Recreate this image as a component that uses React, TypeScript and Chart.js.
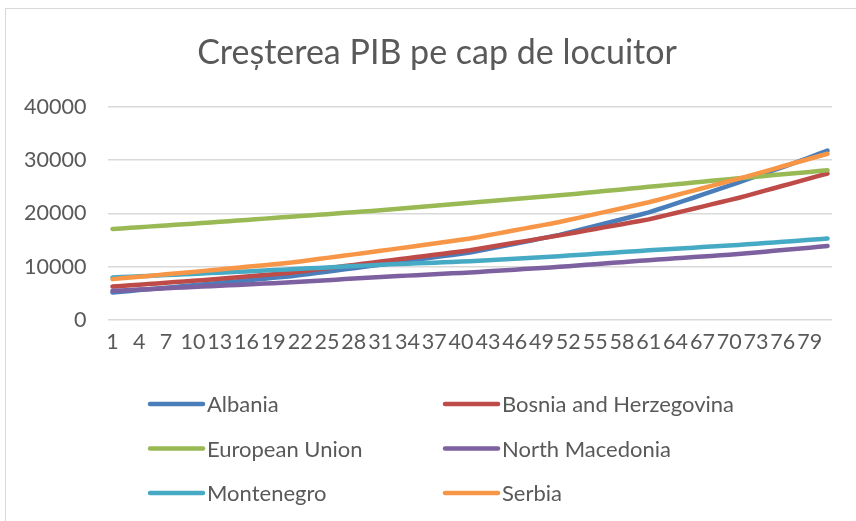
import React, { useEffect, useRef } from "react";
import { Chart, registerables } from "chart.js";

Chart.register(...registerables);

const categories = [
  "1","2","3","4","5","6","7","8","9","10","11","12","13","14","15","16","17","18","19","20",
  "21","22","23","24","25","26","27","28","29","30","31","32","33","34","35","36","37","38","39","40",
  "41","42","43","44","45","46","47","48","49","50","51","52","53","54","55","56","57","58","59","60",
  "61","62","63","64","65","66","67","68","69","70","71","72","73","74","75","76","77","78","79","80","81",
];

const albania = [
  5200,5340,5490,5640,5790,5940,6090,6240,6400,6550,6700,
  6850,7000,7150,7300,7460,7620,7780,7940,8100,8250,
  8460,8670,8880,9100,9320,9540,9750,9960,10180,10400,
  10630,10860,11090,11320,11550,11780,12010,12240,12470,12700,
  13020,13340,13660,13990,14320,14660,15000,15330,15660,16000,
  16410,16820,17240,17660,18080,18500,18920,19340,19770,20200,
  20750,21300,21850,22400,22950,23520,24090,24660,25230,25800,
  26380,26960,27540,28120,28710,29300,29920,30540,31170,31800,
];

const bosnia = [
  6300,6420,6540,6660,6780,6900,7020,7140,7260,7380,7500,
  7640,7780,7920,8060,8200,8340,8480,8620,8760,8900,
  9110,9320,9530,9740,9950,10160,10370,10580,10790,11000,
  11210,11420,11630,11840,12050,12260,12470,12680,12890,13100,
  13380,13660,13940,14220,14500,14780,15060,15340,15620,15900,
  16200,16500,16800,17100,17400,17700,18000,18300,18600,18900,
  19300,19700,20100,20500,20900,21300,21700,22100,22500,22900,
  23360,23820,24280,24740,25200,25660,26120,26580,27040,27500,
];

const europeanUnion = [
  17100,17210,17320,17430,17540,17650,17760,17870,17980,18090,18200,
  18320,18440,18560,18680,18800,18920,19040,19160,19280,19400,
  19520,19640,19760,19880,20000,20120,20240,20360,20480,20600,
  20740,20880,21020,21160,21300,21440,21580,21720,21860,22000,
  22140,22280,22420,22560,22700,22840,22980,23120,23260,23400,
  23560,23720,23880,24040,24200,24360,24520,24680,24840,25000,
  25160,25320,25480,25640,25800,25960,26120,26280,26440,26600,
  26750,26900,27050,27200,27350,27500,27650,27800,27950,28100,
];

const northMacedonia = [
  5500,5580,5660,5740,5820,5900,5980,6060,6140,6220,6300,
  6380,6460,6540,6620,6700,6780,6860,6940,7020,7100,
  7200,7300,7400,7500,7600,7700,7800,7900,8000,8100,
  8185,8270,8355,8440,8525,8610,8695,8780,8865,8950,
  9055,9160,9265,9370,9475,9580,9685,9790,9895,10000,
  10125,10250,10375,10500,10625,10750,10875,11000,11125,11250,
  11365,11480,11595,11710,11825,11940,12055,12170,12285,12400,
  12550,12700,12850,13000,13150,13300,13450,13600,13750,13900,
];

const montenegro = [
  8000,8075,8150,8225,8300,8375,8450,8525,8600,8675,8750,
  8830,8910,8990,9070,9150,9230,9310,9390,9470,9550,
  9635,9720,9805,9890,9975,10060,10145,10230,10315,10400,
  10465,10530,10595,10660,10725,10790,10855,10920,10985,11050,
  11145,11240,11335,11430,11525,11620,11715,11810,11905,12000,
  12110,12220,12330,12440,12550,12660,12770,12880,12990,13100,
  13200,13300,13400,13500,13600,13700,13800,13900,14000,14100,
  14220,14340,14460,14580,14700,14820,14940,15060,15180,15300,
];

const serbia = [
  7700,7850,8000,8150,8300,8450,8600,8750,8900,9050,9200,
  9360,9520,9680,9840,10000,10160,10320,10480,10640,10800,
  11020,11240,11460,11680,11900,12120,12340,12560,12780,13000,
  13230,13460,13690,13920,14150,14380,14610,14840,15070,15300,
  15610,15920,16230,16540,16850,17160,17470,17780,18090,18400,
  18770,19140,19510,19880,20250,20620,20990,21360,21730,22100,
  22540,22980,23420,23860,24300,24740,25180,25620,26060,26500,
  26970,27440,27910,28380,28850,29320,29790,30260,30730,31200,
];

const seriesNames = ["Albania", "Bosnia and Herzegovina", "European Union", "North Macedonia", "Montenegro", "Serbia"];
const seriesColors = ["#4A7EBB", "#BE4B48", "#98B954", "#7D60A0", "#46AAC5", "#F79646"];
const seriesData = [albania, bosnia, europeanUnion, northMacedonia, montenegro, serbia];

const yTicks = [0, 10000, 20000, 30000, 40000];
const titleText = "Creșterea PIB pe cap de locuitor";

const TEXT = "#595959";
const GRID = "#D9D9D9";
const FONT = "Lato";

const gridLegend = {
  id: "gridLegend",
  afterDraw(chart: any) {
    const ctx = chart.ctx;
    ctx.save();
    chart.data.datasets.forEach((ds: any, i: number) => {
      const col = i % 2;
      const row = Math.floor(i / 2);
      const x0 = col === 0 ? 148 : 443;
      const y = 404 + row * 44.5;
      ctx.strokeStyle = ds.borderColor;
      ctx.lineWidth = 4.5;
      ctx.lineCap = "round";
      ctx.beginPath();
      ctx.moveTo(x0 + 2, y);
      ctx.lineTo(x0 + 55, y);
      ctx.stroke();
      ctx.fillStyle = TEXT;
      ctx.font = `22px ${FONT}`;
      ctx.textBaseline = "alphabetic";
      ctx.textAlign = "left";
      ctx.fillText(ds.label, x0 + 59, y + 8);
    });
    ctx.restore();
  },
};

export default function App() {
  const ref = useRef<HTMLCanvasElement | null>(null);

  useEffect(() => {
    let chart: Chart | null = null;
    let cancelled = false;
    const make = () => {
      if (cancelled || !ref.current) return;
      chart = new Chart(ref.current, {
        type: "line",
        data: {
          labels: categories,
          datasets: seriesData.map((d, i) => ({
            label: seriesNames[i],
            data: d,
            borderColor: seriesColors[i],
            backgroundColor: seriesColors[i],
            borderWidth: 4.5,
            borderCapStyle: "round",
            borderJoinStyle: "round",
            pointRadius: 0,
            pointHoverRadius: 0,
            tension: 0,
            fill: false,
            order: seriesData.length - i,
          })),
        },
        options: {
          responsive: false,
          animation: false,
          devicePixelRatio: 1,
          layout: { padding: { left: 42, right: 24, top: 16, bottom: 157 } },
          plugins: {
            legend: { display: false },
            tooltip: { enabled: false },
            title: {
              display: true,
              text: titleText,
              color: TEXT,
              font: { family: FONT, size: 34, weight: "normal" },
              padding: { top: 17, bottom: 33 },
            },
          },
          scales: {
            x: {
              type: "category",
              offset: true,
              grid: { display: false, drawTicks: false },
              border: { display: false },
              ticks: {
                autoSkip: false,
                maxRotation: 0,
                minRotation: 0,
                padding: 9,
                color: TEXT,
                font: { family: FONT, size: 21.5 },
                callback: (_v: any, idx: number) => (idx % 3 === 0 ? categories[idx] : ""),
              },
            },
            y: {
              min: 0,
              max: 40000,
              afterBuildTicks: (axis: any) => {
                axis.ticks = yTicks.map((v) => ({ value: v }));
              },
              afterFit: (axis: any) => {
                axis.width = 66;
              },
              grid: { color: GRID, lineWidth: 1.5, drawTicks: false },
              border: { display: false },
              ticks: {
                mirror: true,
                crossAlign: "far",
                padding: -84,
                color: TEXT,
                font: { family: FONT, size: 21.5 },
                callback: (v: any) => String(v),
              },
            },
          },
        },
        plugins: [gridLegend],
      } as any);
    };
    const fontsReady = (document as any).fonts
      ? Promise.all([
          (document as any).fonts.load(`21.5px ${FONT}`),
          (document as any).fonts.load(`34px ${FONT}`),
        ]).catch(() => null)
      : Promise.resolve(null);
    fontsReady.then(make);
    return () => {
      cancelled = true;
      if (chart) chart.destroy();
    };
  }, []);

  return (
    <div style={{ position: "fixed", left: 0, top: 0, width: 856, height: 521, background: "#fff", overflow: "hidden" }}>
      <div
        style={{
          position: "absolute",
          left: 5,
          top: 8,
          width: 900,
          height: 600,
          borderTop: `1.5px solid ${GRID}`,
          borderLeft: `1.5px solid ${GRID}`,
        }}
      />
      <canvas ref={ref} width={856} height={521} style={{ position: "absolute", left: 0, top: 0 }} />
    </div>
  );
}
